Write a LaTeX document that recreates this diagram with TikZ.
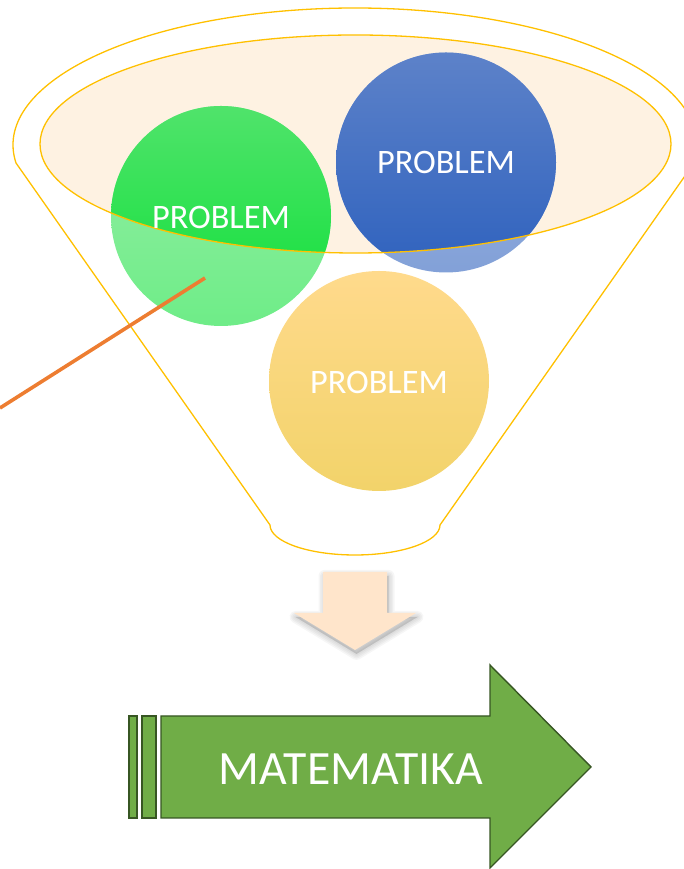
\documentclass[tikz,border=0pt]{standalone}
\usepackage{fontspec}
\setmainfont{Carlito}
\definecolor{gold}{HTML}{FFC000}
\definecolor{peach}{HTML}{FEF2E2}
\definecolor{gtop}{HTML}{50E36B}
\definecolor{gmid}{HTML}{22E846}
\definecolor{gbot}{HTML}{0EE038}
\definecolor{btop}{HTML}{5D82C9}
\definecolor{bmid}{HTML}{4472C4}
\definecolor{bbot}{HTML}{2F62BE}
\definecolor{ytop}{HTML}{FFDA8C}
\definecolor{ymid}{HTML}{FFDC6C}
\definecolor{ybot}{HTML}{F2D36A}
\definecolor{orangeline}{HTML}{ED7D31}
\definecolor{downfill}{HTML}{FFE5CB}
\definecolor{arrowgreen}{HTML}{70AD47}
\definecolor{arrowedge}{HTML}{375623}
\tikzset{
  funnelline/.style={draw=gold, line width=1.3pt},
  ball/.style={circle, minimum size=220pt, inner sep=0pt, draw=none},
  balltext/.style={text=white, font=\fontsize{34.3}{41}\selectfont, inner sep=0pt},
  greenarrow/.style={fill=arrowgreen, draw=arrowedge, line width=1.4pt, line join=miter},
}
\begin{document}
\begin{tikzpicture}[x=1pt,y=1pt]
\useasboundingbox (0,0) rectangle (684,869);
% outer funnel outline
\draw[funnelline] (16,706) arc[start angle=187.55, end angle=-7.55, x radius=342, y radius=137]
  -- (440,344) arc[start angle=0, end angle=-180, x radius=85, y radius=30] -- cycle;
% inner ellipse fill
\fill[peach] (355.5,725) ellipse [x radius=315.5, y radius=109];
% light (outside) parts of the balls
\node[ball, top color=gtop!60!white, middle color=gmid!60!white, bottom color=gbot!60!white] (gl) at (221,653) {};
\node[ball, top color=btop!60!white, middle color=bmid!60!white, bottom color=bbot!60!white] (bl) at (446,706.5) {};
\node[ball, top color=ytop, middle color=ymid, bottom color=ybot] (yl) at (379,488) {};
% saturated parts inside the inner ellipse
\begin{scope}
  \clip (355.5,725) ellipse [x radius=315.5, y radius=109];
  \node[ball, top color=gtop, middle color=gmid, bottom color=gbot] (gs) at (221,653) {};
  \node[ball, top color=btop, middle color=bmid, bottom color=bbot] (bs) at (446,706.5) {};
\end{scope}
% inner ellipse outline
\draw[funnelline] (355.5,725) ellipse [x radius=315.5, y radius=109];
% labels
\node[balltext] (gt) at (221,652) {PROBLEM};
\node[balltext] (bt) at (446,706) {PROBLEM};
\node[balltext] (yt) at (379,487) {PROBLEM};
% orange line
\coordinate (o1) at (0,461);
\coordinate (o2) at (205,591);
\draw[orangeline, line width=3.6pt] (o1) -- (o2);
% down arrow: soft shadow
\begin{scope}[shift={(1.5,-4)}]
  \foreach \w in {12,9,6,3} {
    \filldraw[black, opacity=0.035, line width=\w pt, line join=round]
      (323,297) -- (387,297) -- (387,256) -- (416,256) -- (355,219) -- (294,256) -- (323,256) -- cycle;
  }
\end{scope}
% down arrow
\fill[downfill]
  (323,297) -- (387,297) -- (387,256) -- (416,256) -- (355,219) -- (294,256) -- (323,256) -- cycle;
% green arrow
\draw[greenarrow] (129,51) rectangle (137,153);
\draw[greenarrow] (142,51) rectangle (156,153);
\draw[greenarrow] (161,153) -- (490,153) -- (490,204) -- (591,102) -- (490,1) -- (490,51) -- (161,51) -- cycle;
\node[text=white, font=\fontsize{47.8}{56}\selectfont, inner sep=0pt] (mt) at (351,100) {MATEMATIKA};
\end{tikzpicture}
\end{document}
